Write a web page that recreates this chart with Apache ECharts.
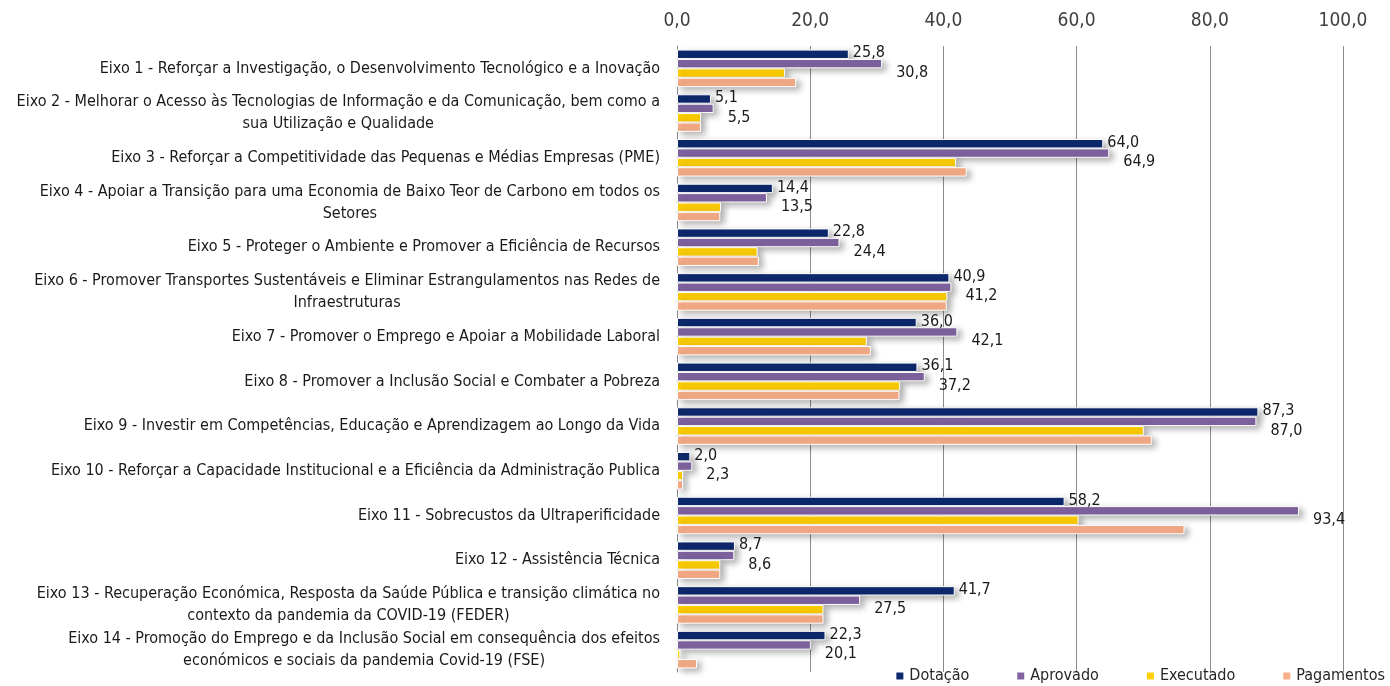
<!DOCTYPE html>
<html>
<head>
<meta charset="utf-8">
<script src="https://cdn.jsdelivr.net/npm/echarts@6/dist/echarts.min.js"></script>
<style>
  html, body { margin: 0; padding: 0; background: #fff; }
  #main { width: 1390px; height: 686px; }
</style>
</head>
<body>
<div id="main"></div>
<script>
const categories = [
  'Eixo 1 - Reforçar a Investigação, o Desenvolvimento Tecnológico e a Inovação',
  'Eixo 2 - Melhorar o Acesso às Tecnologias de Informação e da Comunicação, bem como a\nsua Utilização e Qualidade',
  'Eixo 3 - Reforçar a Competitividade das Pequenas e Médias Empresas (PME)',
  'Eixo 4 - Apoiar a Transição para uma Economia de Baixo Teor de Carbono em todos os\nSetores',
  'Eixo 5 - Proteger o Ambiente e Promover a Eficiência de Recursos',
  'Eixo 6 - Promover Transportes Sustentáveis e Eliminar Estrangulamentos nas Redes de\nInfraestruturas',
  'Eixo 7 - Promover o Emprego e Apoiar a Mobilidade Laboral',
  'Eixo 8 - Promover a Inclusão Social e Combater a Pobreza',
  'Eixo 9 - Investir em Competências, Educação e Aprendizagem ao Longo da Vida',
  'Eixo 10 - Reforçar a Capacidade Institucional e a Eficiência da Administração Publica',
  'Eixo 11 - Sobrecustos da Ultraperificidade',
  'Eixo 12 - Assistência Técnica',
  'Eixo 13 - Recuperação Económica, Resposta da Saúde Pública e transição climática no\ncontexto da pandemia da COVID-19 (FEDER)',
  'Eixo 14 - Promoção do Emprego e da Inclusão Social em consequência dos efeitos\neconómicos e sociais da pandemia Covid-19 (FSE)'
];

const dotacao    = [25.8, 5.1, 64.0, 14.4, 22.8, 40.9, 36.0, 36.1, 87.3, 2.0, 58.2, 8.7, 41.7, 22.3];
const aprovado   = [30.8, 5.5, 64.9, 13.5, 24.4, 41.2, 42.1, 37.2, 87.0, 2.3, 93.4, 8.6, 27.5, 20.1];
const executado  = [16.2, 3.6, 41.9, 6.6, 12.1, 40.6, 28.5, 33.5, 70.1, 0.9, 60.3, 6.5, 22.0, 0.5];
const pagamentos = [17.9, 3.6, 43.5, 6.5, 12.3, 40.5, 29.1, 33.4, 71.3, 0.9, 76.2, 6.5, 22.0, 3.0];

const xTicks = { min: 0, max: 100, interval: 20 };

const FONT = "'Liberation Sans Narrow', 'DejaVu Sans Condensed', 'Open Sans', sans-serif";
const fmt = v => v.toFixed(1).replace('.', ',');

const barShadow = {
  borderColor: '#ffffff',
  borderWidth: 1,
  shadowColor: 'rgba(0,0,0,0.3)',
  shadowBlur: 6,
  shadowOffsetX: 4,
  shadowOffsetY: 3
};

function makeSeries(name, data, color, label) {
  return {
    name: name,
    type: 'bar',
    data: data,
    itemStyle: Object.assign({ color: color }, barShadow),
    label: label,
    emphasis: { disabled: true }
  };
}

const chart = echarts.init(document.getElementById('main'));

chart.setOption({
  animation: false,
  backgroundColor: '#ffffff',
  textStyle: { fontFamily: FONT },
  grid: { left: 677, right: 47, top: 46, bottom: 14, containLabel: false },
  legend: {
    bottom: -3,
    right: 0,
    icon: 'rect',
    itemWidth: 9,
    itemHeight: 9,
    itemGap: 46,
    textStyle: { fontFamily: FONT, fontSize: 16, color: '#262626' },
    data: ['Dotação', 'Aprovado', 'Executado', 'Pagamentos']
  },
  xAxis: {
    type: 'value',
    position: 'top',
    min: xTicks.min,
    max: xTicks.max,
    interval: xTicks.interval,
    axisLine: { show: false },
    axisTick: { show: false },
    splitLine: { lineStyle: { color: '#8c8c8c', width: 1 } },
    axisLabel: {
      formatter: fmt,
      fontFamily: FONT,
      fontSize: 19,
      color: '#404040',
      margin: 15
    }
  },
  yAxis: {
    type: 'category',
    inverse: true,
    data: categories,
    axisLine: { show: true, lineStyle: { color: '#8c8c8c' } },
    axisTick: { show: false },
    axisLabel: {
      margin: 17,
      align: 'right',
      formatter: v => v.split('\n').map(s => '{c|' + s + '}').join('\n'),
      rich: {
        c: { align: 'center', fontFamily: FONT, fontSize: 16, color: '#1a1a1a', lineHeight: 22 }
      }
    }
  },
  series: [
    makeSeries('Dotação', dotacao, '#0e2a6e', {
      show: true, position: 'right', distance: 4, offset: [0, -1],
      formatter: p => fmt(p.value), fontFamily: FONT, fontSize: 16, color: '#1a1a1a'
    }),
    makeSeries('Aprovado', aprovado, '#8064a2', {
      show: true, position: 'right', distance: 4, offset: [10, 9],
      formatter: p => fmt(p.value), fontFamily: FONT, fontSize: 16, color: '#1a1a1a'
    }),
    makeSeries('Executado', executado, '#ffd000', { show: false }),
    makeSeries('Pagamentos', pagamentos, '#f8ae88', { show: false })
  ].map(s => Object.assign(s, { barGap: '0%', barCategoryGap: '16%' }))
});
</script>
</body>
</html>
